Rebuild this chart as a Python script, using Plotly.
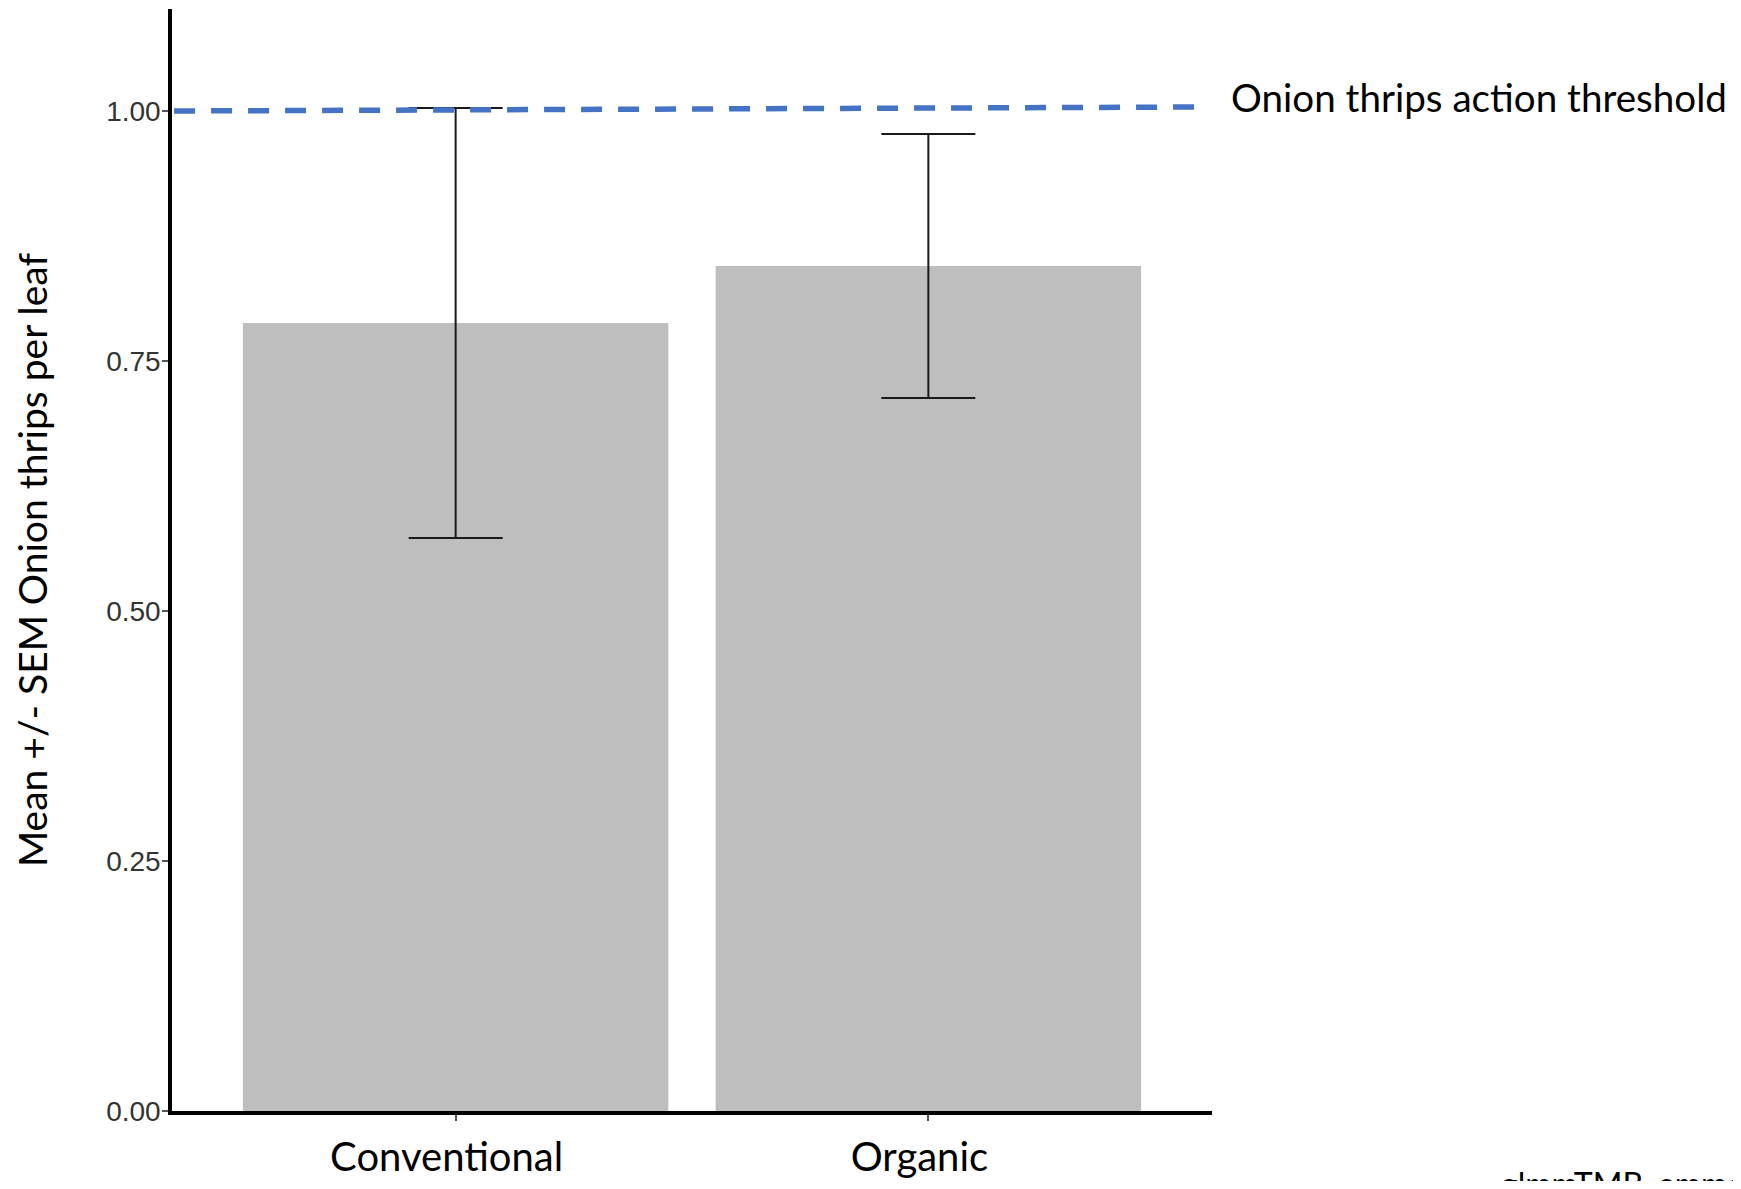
import plotly.graph_objects as go

# ---- data ----
categories = ["Conventional", "Organic"]
means = [0.788, 0.845]
sem = [0.215, 0.132]
threshold_start = 1.000
threshold_end = 1.004
threshold_label = "Onion thrips action threshold"
y_ticks = [0.00, 0.25, 0.50, 0.75, 1.00]
y_ticklabels = ["0.00", "0.25", "0.50", "0.75", "1.00"]
y_title = "Mean +/- SEM Onion thrips per leaf"
footnote = "glmmTMB_emmeans"

# page body has an 8px margin, so the figure is drawn 8px smaller/offset
W, H = 1725, 1173
L, R, T, B = 164, 521, 1, 70

fig = go.Figure()
fig.add_trace(go.Bar(
    x=categories, y=means, width=0.9,
    marker=dict(color="#BEBEBE", line=dict(width=0)),
    error_y=dict(type="data", symmetric=True, array=sem,
                 color="#1a1a1a", thickness=2, width=47),
    showlegend=False,
))

fig.add_shape(type="line", xref="paper", yref="y",
              x0=0.002, x1=0.990, y0=threshold_start, y1=threshold_end,
              line=dict(color="#4472C4", width=5.5, dash="21px,16px"))

fig.add_annotation(xref="paper", yref="y", x=1.0163, y=1.014,
                   xanchor="left", yanchor="middle", showarrow=False,
                   text=threshold_label,
                   font=dict(family="Lato", size=38.6, color="black"))

fig.add_annotation(xref="paper", yref="paper", x=1.2757, y=-0.046,
                   xanchor="left", yanchor="top", showarrow=False,
                   text=footnote,
                   font=dict(family="Lato", size=32, color="black"))

fig.update_layout(
    width=W, height=H,
    margin=dict(l=L, r=R, t=T, b=B, autoexpand=False),
    paper_bgcolor="white", plot_bgcolor="white",
    bargap=0.1,
    xaxis=dict(
        range=[-0.6, 1.6], showgrid=False, zeroline=False, automargin=False,
        showline=True, linecolor="black", linewidth=3.5,
        ticks="outside", ticklen=6, tickcolor="#555555", tickwidth=1.5,
        tickfont=dict(family="Lato", size=40, color="black"),
        ticklabelstandoff=2, ticklabelshift=-9,
    ),
    yaxis=dict(
        range=[0, 1.102], showgrid=False, zeroline=False, automargin=False,
        showline=True, linecolor="black", linewidth=3.5,
        tickvals=y_ticks, ticktext=y_ticklabels,
        ticks="outside", ticklen=6, tickcolor="#555555", tickwidth=1.5,
        tickfont=dict(family="Liberation Sans", size=28, color="#333333"),
        ticklabelstandoff=-4,
        title=dict(text=y_title, standoff=48,
                   font=dict(family="Lato", size=39, color="black")),
    ),
)

fig.write_html("out.html")
